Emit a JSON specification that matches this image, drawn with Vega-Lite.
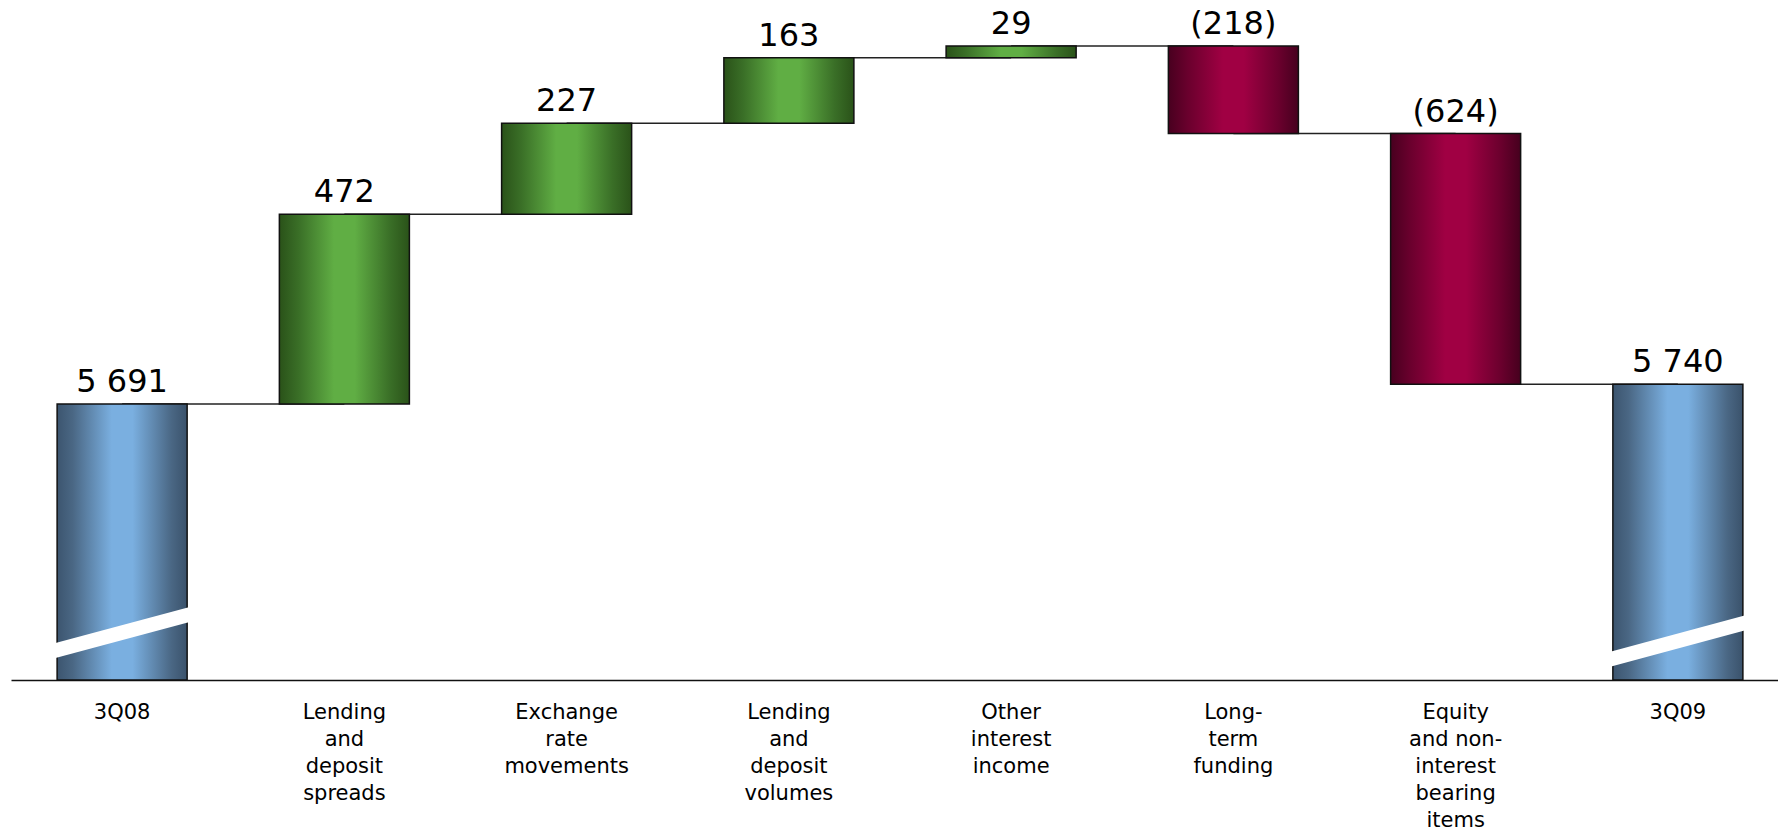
{
  "$schema": "https://vega.github.io/schema/vega-lite/v6.json",
  "autosize": {"type": "none"},
  "padding": {"left": 11, "top": 0, "right": 0, "bottom": 154},
  "width": 1778,
  "height": 680,
  "background": "white",
  "config": {"view": {"stroke": null}},
  "data": {
    "values": [
      {"cat": "3Q08", "start": 0, "end": 5691, "type": "total", "label": "5 691", "next": "Lending\nand\ndeposit\nspreads", "brk": 5122},
      {"cat": "Lending\nand\ndeposit\nspreads", "start": 5691, "end": 6163, "type": "increase", "label": "472", "next": "Exchange\nrate\nmovements"},
      {"cat": "Exchange\nrate\nmovements", "start": 6163, "end": 6390, "type": "increase", "label": "227", "next": "Lending\nand\ndeposit\nvolumes"},
      {"cat": "Lending\nand\ndeposit\nvolumes", "start": 6390, "end": 6553, "type": "increase", "label": "163", "next": "Other\ninterest\nincome"},
      {"cat": "Other\ninterest\nincome", "start": 6553, "end": 6582, "type": "increase", "label": "29", "next": "Long-\nterm\nfunding"},
      {"cat": "Long-\nterm\nfunding", "start": 6582, "end": 6364, "type": "decrease", "label": "(218)", "next": "Equity\nand non-\ninterest\nbearing\nitems"},
      {"cat": "Equity\nand non-\ninterest\nbearing\nitems", "start": 6364, "end": 5740, "type": "decrease", "label": "(624)", "next": "3Q09"},
      {"cat": "3Q09", "start": 0, "end": 5740, "type": "total", "label": "5 740", "brk": 5101}
    ]
  },
  "encoding": {
    "x": {
      "field": "cat",
      "type": "nominal",
      "sort": null,
      "scale": {
        "domain": ["3Q08", "Lending\nand\ndeposit\nspreads", "Exchange\nrate\nmovements", "Lending\nand\ndeposit\nvolumes", "Other\ninterest\nincome", "Long-\nterm\nfunding", "Equity\nand non-\ninterest\nbearing\nitems", "3Q09"],
        "paddingInner": 0.415,
        "paddingOuter": 0.2075
      },
      "axis": {
        "title": null,
        "labelAngle": 0,
        "labelExpr": "split(datum.value, '\\n')",
        "labelFont": "DejaVu Sans",
        "labelFontSize": 21,
        "labelColor": "#000000",
        "labelLineHeight": 27.2,
        "labelPadding": 21,
        "labelOverlap": false,
        "labelLimit": 400,
        "ticks": false,
        "tickSize": 0,
        "domain": true,
        "domainColor": "#111111",
        "domainWidth": 1.5,
        "grid": false
      }
    }
  },
  "layer": [
    {
      "transform": [{"filter": "datum.next != null"}],
      "mark": {"type": "rule", "color": "#222222", "strokeWidth": 1.5},
      "encoding": {
        "x2": {"field": "next"},
        "y": {"field": "end", "type": "quantitative", "scale": {"domain": [5004, 6696.5], "clamp": true, "nice": false, "zero": false}, "axis": null}
      }
    },
    {
      "transform": [{"filter": "datum.type == 'total'"}],
      "mark": {
        "type": "bar",
        "stroke": "#111111",
        "strokeWidth": 1.5,
        "fill": {"gradient": "linear", "x1": 0, "y1": 0, "x2": 1, "y2": 0,
          "stops": [
            {"offset": 0, "color": "#3c556f"},
            {"offset": 0.12, "color": "#4a6784"},
            {"offset": 0.42, "color": "#7aafe0"},
            {"offset": 0.58, "color": "#7aafe0"},
            {"offset": 0.88, "color": "#4a6784"},
            {"offset": 1, "color": "#3a526b"}
          ]}
      },
      "encoding": {
        "y": {"field": "start", "type": "quantitative", "scale": {"domain": [5004, 6696.5], "clamp": true, "nice": false, "zero": false}, "axis": null},
        "y2": {"field": "end"}
      }
    },
    {
      "transform": [{"filter": "datum.type == 'increase'"}],
      "mark": {
        "type": "bar",
        "stroke": "#111111",
        "strokeWidth": 1.5,
        "fill": {"gradient": "linear", "x1": 0, "y1": 0, "x2": 1, "y2": 0,
          "stops": [
            {"offset": 0, "color": "#2a5219"},
            {"offset": 0.15, "color": "#3a6f27"},
            {"offset": 0.42, "color": "#60ae44"},
            {"offset": 0.58, "color": "#60ae44"},
            {"offset": 0.85, "color": "#3a6f27"},
            {"offset": 1, "color": "#2a5219"}
          ]}
      },
      "encoding": {
        "y": {"field": "start", "type": "quantitative", "scale": {"domain": [5004, 6696.5], "clamp": true, "nice": false, "zero": false}, "axis": null},
        "y2": {"field": "end"}
      }
    },
    {
      "transform": [{"filter": "datum.type == 'decrease'"}],
      "mark": {
        "type": "bar",
        "stroke": "#111111",
        "strokeWidth": 1.5,
        "fill": {"gradient": "linear", "x1": 0, "y1": 0, "x2": 1, "y2": 0,
          "stops": [
            {"offset": 0, "color": "#48001f"},
            {"offset": 0.15, "color": "#6a002d"},
            {"offset": 0.42, "color": "#a00043"},
            {"offset": 0.58, "color": "#a00043"},
            {"offset": 0.85, "color": "#6a002d"},
            {"offset": 1, "color": "#46001e"}
          ]}
      },
      "encoding": {
        "y": {"field": "start", "type": "quantitative", "scale": {"domain": [5004, 6696.5], "clamp": true, "nice": false, "zero": false}, "axis": null},
        "y2": {"field": "end"}
      }
    },
    {
      "transform": [{"filter": "datum.brk != null"}],
      "mark": {
        "type": "point",
        "filled": true,
        "fill": "#ffffff",
        "opacity": 1,
        "strokeWidth": 0,
        "size": 22500,
        "shape": "M-1,0.169L1,-0.369L1,-0.169L-1,0.369Z"
      },
      "encoding": {
        "y": {"field": "brk", "type": "quantitative", "scale": {"domain": [5004, 6696.5], "clamp": true, "nice": false, "zero": false}, "axis": null}
      }
    },
    {
      "transform": [{"calculate": "max(datum.start, datum.end)", "as": "top"}],
      "mark": {
        "type": "text",
        "font": "DejaVu Sans",
        "fontSize": 32,
        "color": "#000000",
        "align": "center",
        "baseline": "alphabetic",
        "dy": -12
      },
      "encoding": {
        "y": {"field": "top", "type": "quantitative", "scale": {"domain": [5004, 6696.5], "clamp": true, "nice": false, "zero": false}, "axis": null},
        "text": {"field": "label"}
      }
    }
  ]
}
